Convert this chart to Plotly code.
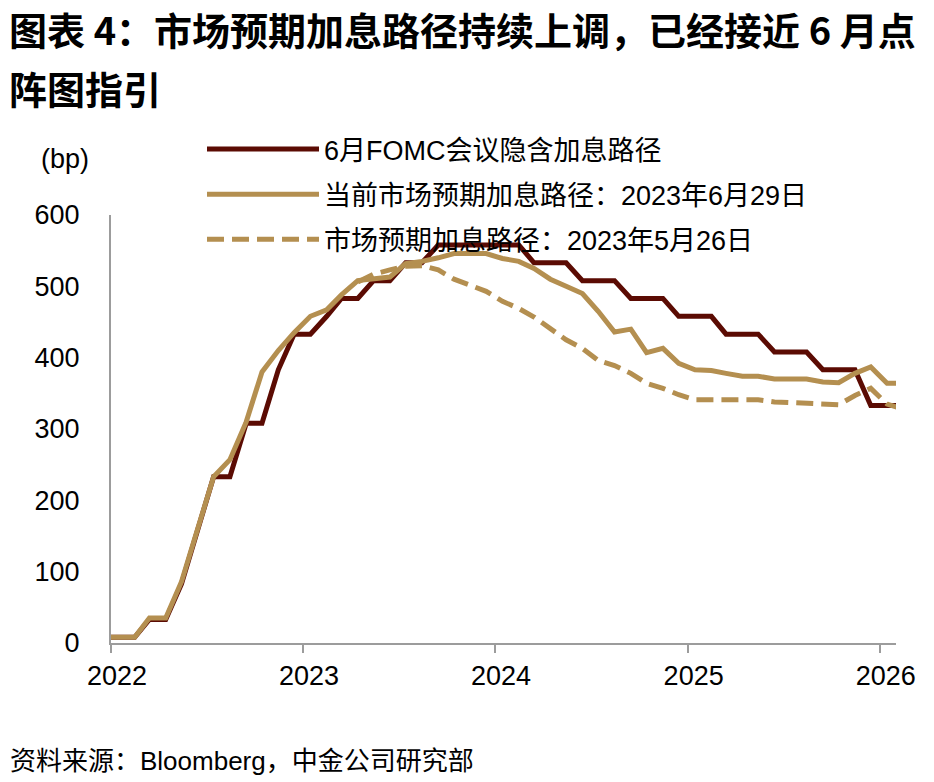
import plotly.graph_objects as go

# ---- data (bp), mid-month observations Jan-2022 .. Feb-2026 ----
months = [f"{y}-{m:02d}-15" for y in range(2022, 2027) for m in range(1, 13)][:50]
months[0] = "2022-01-01"

fomc_june = [8, 8, 33, 33, 83, 158, 233, 233, 308, 308, 383, 433,
             433, 458, 483, 483, 508, 508, 533, 533, 558, 558, 558, 558,
             558, 558, 533, 533, 533, 508, 508, 508, 483, 483, 483, 458,
             458, 458, 433, 433, 433, 408, 408, 408, 383, 383, 383, 333,
             333, 333]

market_0629 = [8, 8, 35, 35, 86, 160, 233, 257, 310, 380, 410, 435,
               458, 467, 488, 508, 511, 513, 532, 535, 540, 546, 546, 546,
               539, 535, 525, 510, 500, 490, 465, 436, 440, 407, 413, 392,
               383, 382, 378, 374, 374, 370, 370, 370, 366, 365, 378, 387,
               364, 364]

market_0526 = [None] * 15 + [506, 517, 523, 528, 529, 523, 510, 502, 493,
               479, 469, 457, 441, 425, 413, 396, 389, 378, 364, 357, 348,
               341, 341, 341, 342, 341, 338, 337, 337, 335, 334, 347, 357,
               335, 328]

series_names = ["6月FOMC会议隐含加息路径",
                "当前市场预期加息路径：2023年6月29日",
                "市场预期加息路径：2023年5月26日"]
year_ticks = ["2022-01-01", "2023-01-01", "2024-01-01", "2025-01-01", "2026-01-01"]
year_labels = ["2022", "2023", "2024", "2025", "2026"]
y_ticks = [0, 100, 200, 300, 400, 500, 600]

DARK = "#5B0B03"
TAN = "#B48F50"
FONT = "Liberation Sans, Arial, Noto Sans CJK SC, sans-serif"
CJK_BOLD = "Noto Sans CJK SC, sans-serif"

# plot area in the reference: x 111..896, y 215..643
W, H = 934, 782
L, T = 111, 215
PW, PH = 785, 428

def py(ref_y):
    return 1 + (215 - ref_y) / PH

def px(ref_x):
    return (ref_x - 111) / PW

fig = go.Figure()
fig.add_trace(go.Scatter(x=months, y=fomc_june, mode="lines", name=series_names[0],
                         legendgroup="a", line=dict(color=DARK, width=5)))
fig.add_trace(go.Scatter(x=months, y=market_0629, mode="lines", name=series_names[1],
                         legendgroup="b", line=dict(color=TAN, width=5)))
fig.add_trace(go.Scatter(x=months, y=market_0526, mode="lines", name=series_names[2],
                         legendgroup="c", line=dict(color=TAN, width=5, dash="17px,8px")))

fig.update_layout(
    width=W, height=H,
    margin=dict(l=L, r=W - L - PW, t=T, b=H - T - PH),
    paper_bgcolor="white", plot_bgcolor="white",
    font=dict(family=FONT, size=27, color="black"),
    showlegend=True,
    legend=dict(x=px(202), y=py(125), xanchor="left", yanchor="top",
                bgcolor="rgba(0,0,0,0)", itemwidth=112, tracegroupgap=7,
                font=dict(size=27, family=FONT), itemclick=False),
    xaxis=dict(type="date", range=["2022-01-01", "2026-02-01"],
               tickvals=year_ticks, ticktext=year_labels,
               showgrid=False, zeroline=False,
               showline=True, linecolor="#9c9c9c", linewidth=2,
               ticks="outside", ticklen=8, tickwidth=2, tickcolor="#9c9c9c",
               ticklabelshift=6, ticklabelstandoff=0,
               tickfont=dict(size=27, family=FONT)),
    yaxis=dict(range=[0, 600], tickvals=y_ticks,
               showgrid=False, zeroline=False,
               showline=True, linecolor="#9c9c9c", linewidth=2,
               ticks="", ticklabelstandoff=24,
               tickfont=dict(size=27, family=FONT)),
    annotations=[
        dict(text="<b>图表 4：市场预期加息路径持续上调，已经接近 6 月点</b>",
             xref="paper", yref="paper", x=px(8), y=py(28),
             xanchor="left", yanchor="middle", showarrow=False, borderpad=0,
             font=dict(size=38, family=CJK_BOLD, color="black")),
        dict(text="<b>阵图指引</b>",
             xref="paper", yref="paper", x=px(8), y=py(87),
             xanchor="left", yanchor="middle", showarrow=False, borderpad=0,
             font=dict(size=38, family=CJK_BOLD, color="black")),
        dict(text="(bp)", xref="paper", yref="paper", x=px(65), y=py(159),
             xanchor="center", yanchor="middle", showarrow=False,
             font=dict(size=27, family=FONT)),
        dict(text="资料来源：Bloomberg，中金公司研究部", xref="paper", yref="paper",
             x=px(8), y=py(761), xanchor="left", yanchor="middle",
             showarrow=False, font=dict(size=26, family=FONT)),
    ],
)

fig.write_html("out.html",
               config={"displayModeBar": False},
               post_script="document.body.style.margin='0px';")
